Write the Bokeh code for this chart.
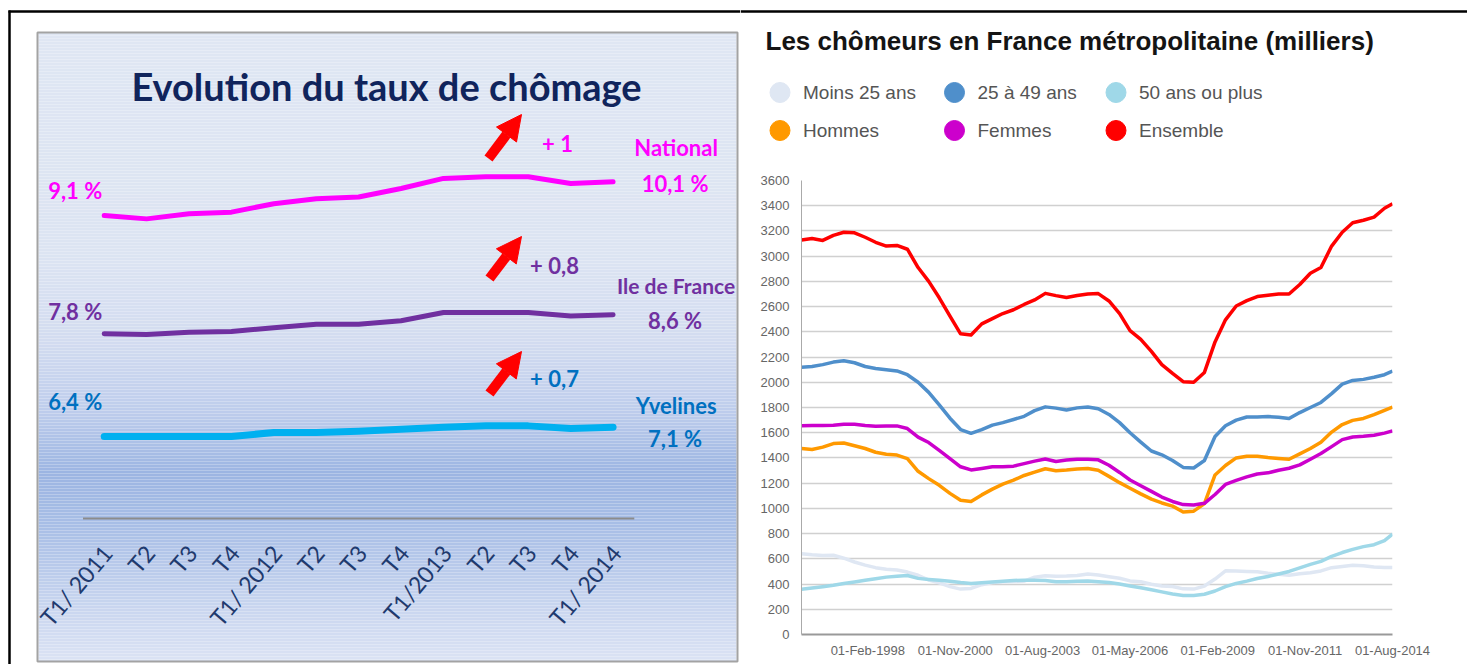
from datetime import datetime
import pandas as pd
from bokeh.plotting import figure
from bokeh.layouts import row, column
from bokeh.models import Range1d, FixedTicker, DatetimeTickFormatter, Arrow, NormalHead
from bokeh.core.properties import value
from bokeh.embed import file_html
from bokeh.resources import INLINE

# ---------------- Left chart data (taux de chômage, %) ----------------
quarters = ["T1/ 2011", "T2", "T3", "T4", "T1/ 2012", "T2", "T3", "T4",
            "T1/2013", "T2", "T3", "T4", "T1/ 2014"]
national = [9.1, 9.0, 9.15, 9.2, 9.45, 9.6, 9.65, 9.9, 10.2, 10.25, 10.25, 10.05, 10.1]
idf = [7.8, 7.77, 7.87, 7.9, 8.05, 8.2, 8.2, 8.35, 8.7, 8.7, 8.7, 8.55, 8.6]
yvelines = [6.4, 6.4, 6.4, 6.4, 6.7, 6.7, 6.8, 6.95, 7.1, 7.2, 7.2, 7.0, 7.1]
left_names = ["National", "Ile de France", "Yvelines"]

# ---------------- Right chart data (chômeurs, milliers) ----------------
dates = list(pd.date_range("1996-01-01", "2014-05-01", freq="4MS")) + [pd.Timestamp("2014-08-01")]
moins25 = [640, 632, 627, 628, 605, 575, 550, 530, 518, 512, 495, 470, 432, 410, 380, 360, 365, 395, 412, 418,
           420, 423, 455, 465, 462, 463, 468, 480, 472, 458, 446, 425, 418, 398, 385, 380, 362, 360, 384, 440,
           505, 504, 500, 497, 486, 478, 470, 482, 490, 504, 530, 540, 549, 545, 536, 532, 531]
de25a49 = [2120, 2125, 2140, 2160, 2170, 2155, 2125, 2110, 2100, 2090, 2060, 2000, 1920, 1820, 1715, 1625, 1595,
           1625, 1660, 1680, 1705, 1730, 1775, 1805, 1795, 1780, 1797, 1804, 1790, 1745, 1680, 1600, 1525, 1455,
           1425, 1380, 1325, 1320, 1380, 1570, 1655, 1700, 1725, 1725, 1728, 1722, 1712, 1760, 1800, 1840, 1910,
           1985, 2015, 2023, 2040, 2060, 2089]
plus50 = [358, 368, 379, 390, 405, 417, 430, 442, 455, 462, 468, 445, 437, 430, 422, 412, 405, 410, 416, 422,
          428, 431, 431, 428, 418, 418, 422, 425, 418, 412, 400, 385, 371, 355, 338, 321, 310, 310, 319, 345,
          380, 405, 423, 444, 460, 480, 500, 528, 556, 580, 620, 650, 675, 697, 712, 745, 795]
hommes = [1475, 1467, 1486, 1514, 1518, 1497, 1475, 1445, 1429, 1423, 1394, 1294, 1236, 1183, 1119, 1064, 1054,
          1107, 1153, 1193, 1224, 1261, 1288, 1314, 1299, 1305, 1313, 1317, 1302, 1254, 1204, 1160, 1115, 1073,
          1043, 1018, 972, 978, 1038, 1265, 1340, 1400, 1414, 1414, 1403, 1396, 1390, 1432, 1475, 1525, 1605,
          1665, 1698, 1713, 1743, 1778, 1804]
femmes = [1655, 1657, 1658, 1660, 1668, 1668, 1658, 1652, 1654, 1654, 1633, 1565, 1522, 1460, 1395, 1330, 1305,
          1317, 1330, 1330, 1335, 1355, 1375, 1392, 1372, 1383, 1390, 1390, 1385, 1342, 1285, 1225, 1180, 1135,
          1090, 1055, 1030, 1027, 1040, 1110, 1190, 1222, 1250, 1273, 1282, 1303, 1318, 1345, 1390, 1435, 1490,
          1545, 1566, 1572, 1580, 1597, 1615]
ensemble = [3129, 3140, 3125, 3165, 3190, 3185, 3150, 3110, 3080, 3085, 3055, 2910, 2800, 2670, 2525, 2384, 2375,
            2463, 2505, 2545, 2575, 2617, 2653, 2705, 2687, 2673, 2688, 2700, 2703, 2645, 2545, 2410, 2340, 2245,
            2140, 2070, 2005, 2000, 2078, 2320, 2495, 2605, 2647, 2680, 2690, 2700, 2700, 2775, 2865, 2910, 3080,
            3190, 3265, 3285, 3310, 3380, 3415]
right_names = ["Moins 25 ans", "25 à 49 ans", "50 ans ou plus", "Hommes", "Femmes", "Ensemble"]
x_tick_dates = ["1998-02-01", "2000-11-01", "2003-08-01", "2006-05-01", "2009-02-01", "2011-11-01", "2014-08-01"]
y_ticks = list(range(0, 3601, 200))

# ---------------- styles ----------------
CAL = "Lato"
ARIAL = "Liberation Sans"
left_colors = ["#ff00ff", "#7030a0", "#0070c0"]
left_line_colors = ["#ff00ff", "#7030a0", "#00b0f0"]
right_colors = ["#dfe7f3", "#4f8fcb", "#9fd8e8", "#ff9900", "#cc00cc", "#ff0000"]

LW, RW, H = 740, 727, 664
HH = 170
CH = H - HH


def fit_range(v0, p0, v1, p1, size, down=False):
    s = (p1 - p0) / (v1 - v0)
    a = v0 - p0 / s
    b = v0 + (size - p0) / s
    return Range1d(start=b, end=a) if down else Range1d(start=a, end=b)


def fmt_pct(v):
    return f"{v:.1f}".replace(".", ",") + " %"


def fmt_diff(d):
    s = f"{d:.1f}"
    if s.endswith(".0"):
        s = s[:-2]
    return "+ " + s.replace(".", ",")


# ================= LEFT FIGURE =================
left = figure(width=LW, height=H, x_range=Range1d(0, LW), y_range=Range1d(H, 0),
              x_axis_type=None, y_axis_type=None, output_backend="svg",
              toolbar_location=None, min_border=0)
left.frame_align = False
left.outline_line_color = None
left.background_fill_color = "white"
left.border_fill_color = "white"

stops = [(31, (223, 230, 243)), (250, (220, 228, 242)), (338, (211, 220, 240)), (410, (190, 205, 236)),
         (472, (156, 181, 226)), (525, (168, 190, 230)), (605, (200, 213, 239)), (662, (220, 227, 244))]


def col_at(yv):
    for (y0, c0), (y1, c1) in zip(stops[:-1], stops[1:]):
        if y0 <= yv <= y1:
            t = (yv - y0) / (y1 - y0)
            c = [round(a + (b - a) * t) for a, b in zip(c0, c1)]
            return "#%02x%02x%02x" % tuple(c)
    return "#%02x%02x%02x" % stops[-1][1]


tops = list(range(32, 661, 3))
left.quad(left=38, right=736, top=tops, bottom=[min(t + 3, 661) for t in tops],
          fill_color=[col_at(t + 1.5) for t in tops], line_color=None)
left.quad(left=37, right=737, top=32, bottom=661, fill_color=None, line_color="#a3a3a3", line_width=2)

# black frame
left.line([9, 9], [10, H], line_color="black", line_width=2.5)
left.line([8, LW], [11, 11], line_color="black", line_width=2.5)

left.text(x=[386], y=[85], text=["Evolution du taux de chômage"], text_font=value(CAL),
          text_font_style="bold", text_font_size="38px", text_color="#10245c",
          text_align="center", text_baseline="middle")

left.extra_x_ranges = {"q": fit_range(0, 103.7, 12, 612.6, LW)}
left.extra_y_ranges = {
    "nat": fit_range(national[0], 215, national[-1], 181.3, H, down=True),
    "idf": fit_range(idf[0], 333.3, idf[-1], 314.3, H, down=True),
    "yve": fit_range(yvelines[0], 436, yvelines[-1], 426.7, H, down=True),
}
idx = list(range(len(quarters)))

# axis line and rotated quarter labels
left.line(x=[-0.5, len(quarters) - 0.5], y=[518, 518], x_range_name="q", line_color="#8c8c8c", line_width=2)
left.text(x=idx, y=[548] * len(idx), text=quarters, x_range_name="q", angle=0.87, x_offset=3,
          text_align="right", text_baseline="middle", text_font=value(CAL),
          text_font_size="23px", text_color="#1f3a6e")

series = [(national, "nat", 5), (idf, "idf", 5), (yvelines, "yve", 7)]
right_off = [(-34, 2), (-29, 6), (-22, 11)]
left_off = [-25, -22, -35]
name_sizes = ["22px", "21px", "22px"]
for (vals, rn, lw), name, c, lc, (o1, o2), lo, ns in zip(series, left_names, left_colors, left_line_colors,
                                                          right_off, left_off, name_sizes):
    left.line(x=idx, y=vals, x_range_name="q", y_range_name=rn, line_color=lc, line_width=lw,
              line_join="round", line_cap="round")
    common = dict(x_range_name="q", y_range_name=rn, text_font=value(CAL), text_font_style="bold",
                  text_color=c, text_align="center", text_baseline="middle")
    left.text(x=[0], y=[vals[0]], text=[fmt_pct(vals[0])], x_offset=-29, y_offset=lo,
              text_font_size="22px", **common)
    left.text(x=[idx[-1]], y=[vals[-1]], text=[name], x_offset=63, y_offset=o1,
              text_font_size=ns, **common)
    left.text(x=[idx[-1]], y=[vals[-1]], text=[fmt_pct(vals[-1])], x_offset=62, y_offset=o2,
              text_font_size="22px", **common)

# variation labels and red arrows
diff_pos = [(557, 143), (554, 265), (554, 378)]
arrows = [((488, 158), (521, 114)), ((489, 278), (521, 236)), ((489, 393), (521, 351))]
for vals, c, (dx, dy), ((xs, ys), (xe, ye)) in zip([national, idf, yvelines], left_colors, diff_pos, arrows):
    left.text(x=[dx], y=[dy], text=[fmt_diff(vals[-1] - vals[0])], text_font=value(CAL),
              text_font_style="bold", text_font_size="22px", text_color=c,
              text_align="center", text_baseline="middle")
    left.add_layout(Arrow(x_start=xs, y_start=ys, x_end=xe, y_end=ye, line_color="#ff0000", line_width=10,
                          end=NormalHead(size=25, fill_color="#ff0000", line_color="#ff0000")))

# ================= RIGHT HEADER =================
header = figure(width=RW, height=HH, x_range=Range1d(0, RW), y_range=Range1d(HH, 0),
                x_axis_type=None, y_axis_type=None, output_backend="svg",
                toolbar_location=None, min_border=0)
header.frame_align = False
header.outline_line_color = None
header.line([0, RW], [11, 11], line_color="black", line_width=2.5)
header.text(x=[25], y=[40], text=["Les chômeurs en France métropolitaine (milliers)"],
            text_font=value(ARIAL), text_font_style="bold", text_font_size="26px",
            text_color="#141414", text_align="left", text_baseline="middle")
col_x = [39.5, 214, 375.5]
row_y = [92, 130]
lx = [col_x[i % 3] for i in range(len(right_names))]
ly = [row_y[i // 3] for i in range(len(right_names))]
header.scatter(x=lx, y=ly, size=20, fill_color=right_colors, line_color=right_colors)
header.text(x=[v + 23 for v in lx], y=ly, text=right_names, text_font=value(ARIAL),
            text_font_size="19px", text_color="#555555", text_align="left", text_baseline="middle")

# ================= RIGHT CHART =================
chart = figure(width=RW, height=CH, x_axis_type="datetime",
               x_range=Range1d(start=dates[0], end=dates[-1]), y_range=Range1d(0, 3600),
               output_backend="svg", toolbar_location=None,
               min_border_left=61, min_border_right=75, min_border_top=10, min_border_bottom=30)
chart.frame_align = False
chart.outline_line_color = None
for vals, c in zip([moins25, de25a49, plus50, hommes, femmes, ensemble], right_colors):
    chart.line(dates, vals, line_color=c, line_width=3.5, line_join="round")

chart.yaxis.ticker = FixedTicker(ticks=y_ticks)
chart.xaxis.ticker = FixedTicker(ticks=[pd.Timestamp(d).value // 10**6 for d in x_tick_dates])
fmtd = "%d-%b-%Y"
chart.xaxis.formatter = DatetimeTickFormatter(days=fmtd, months=fmtd, years=fmtd)
for ax in (chart.xaxis[0], chart.yaxis[0]):
    ax.major_tick_line_color = None
    ax.minor_tick_line_color = None
    ax.major_label_text_font = ARIAL
    ax.major_label_text_font_size = "13px"
    ax.major_label_text_color = "#666666"
chart.yaxis.axis_line_color = "#aaaaaa"
chart.yaxis.major_label_standoff = 6
chart.xaxis.axis_line_color = "#999999"
chart.xaxis.axis_line_width = 2
chart.xaxis.major_label_standoff = 2
chart.xgrid.visible = False
chart.ygrid.grid_line_color = "#d0d0d0"
chart.ygrid.grid_line_width = 1.5

layout = row(left, column(header, chart))
open("out.html", "w").write(file_html(layout, INLINE))
